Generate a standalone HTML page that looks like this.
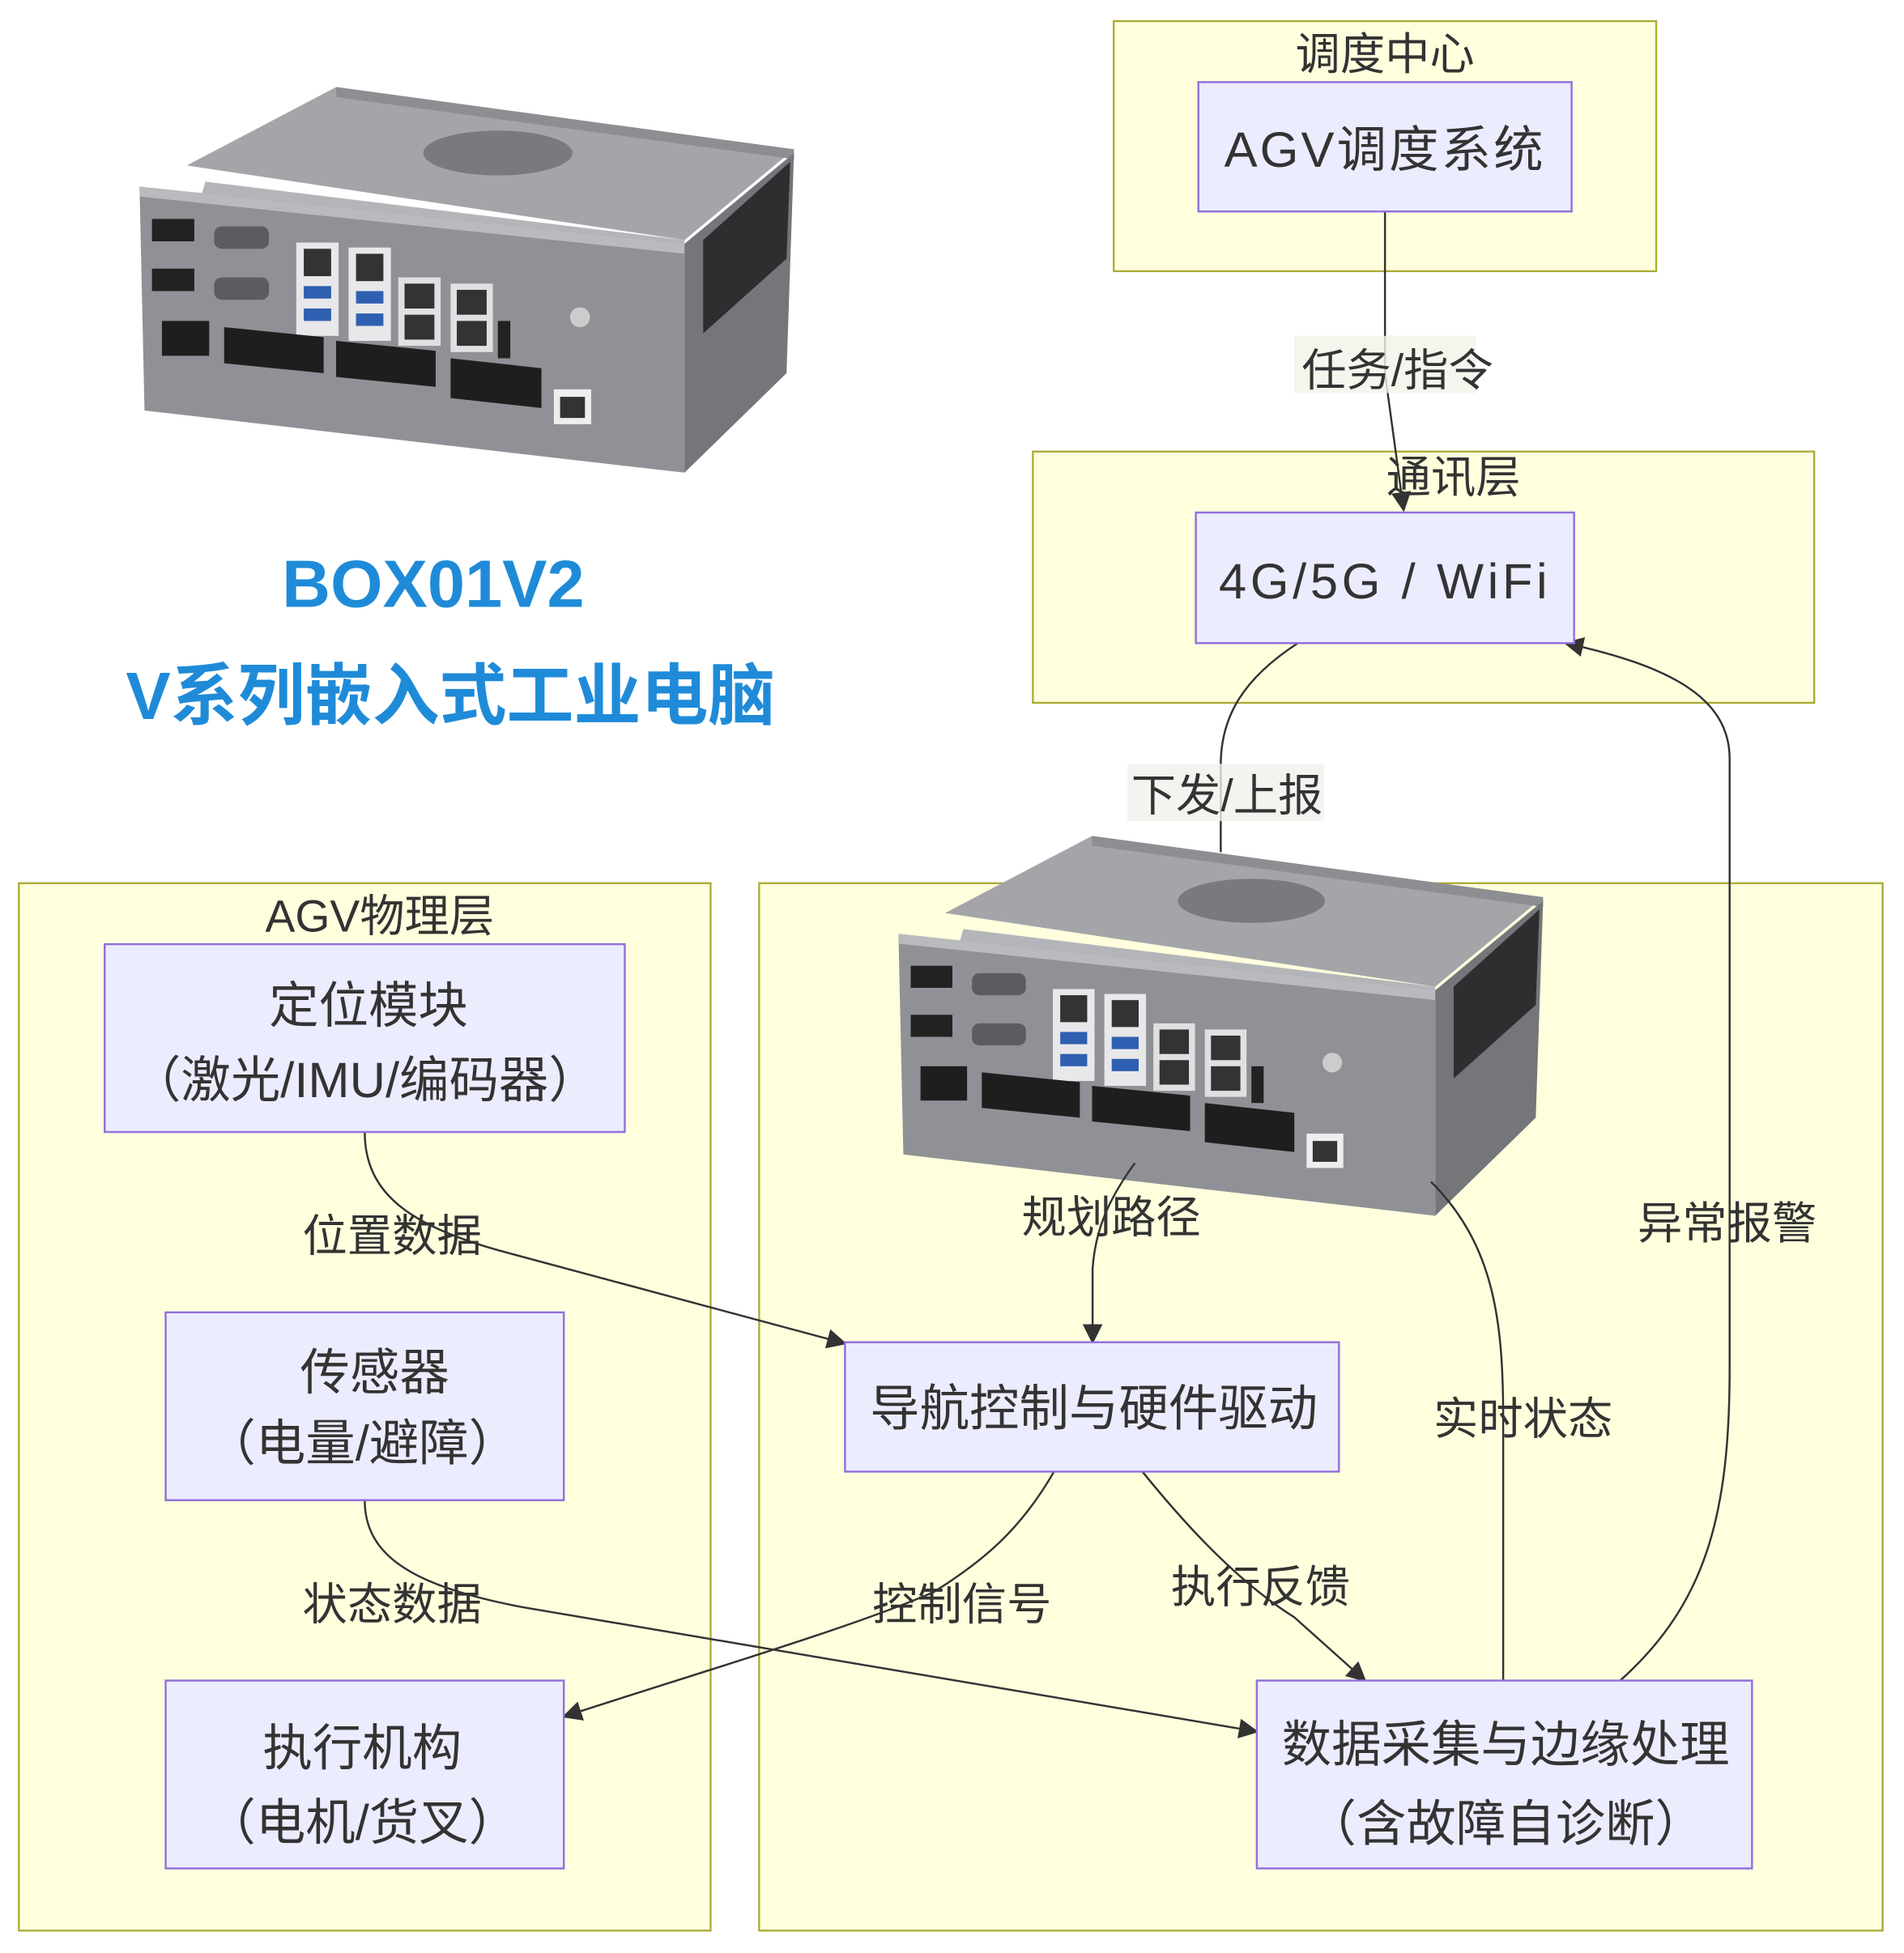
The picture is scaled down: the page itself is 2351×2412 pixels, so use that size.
<!DOCTYPE html>
<html><head><meta charset="utf-8">
<style>
html,body{margin:0;padding:0;background:#fff;}
svg{display:block;}
text{font-family:"Liberation Sans","Noto Sans CJK SC",sans-serif;fill:#333;}
</style></head>
<body>
<svg width="2351" height="2412" viewBox="0 0 1530 1570" xmlns="http://www.w3.org/2000/svg">
<defs>
<marker id="ar" viewBox="0 0 10 10" refX="9" refY="5" markerWidth="8" markerHeight="8" orient="auto-start-reverse" markerUnits="userSpaceOnUse">
<path d="M0,0 L10,5 L0,10 z" fill="#333"/></marker>
<marker id="arb" viewBox="0 0 10 10" refX="9" refY="5" markerWidth="16" markerHeight="16" orient="auto" markerUnits="userSpaceOnUse">
<path d="M0,0 L10,5 L0,10 z" fill="#333"/></marker>
<g id="dev">
 <!-- top face -->
 <polygon points="40,65 160,2 528,52 440,125" fill="#a3a5a9"/>
 <polygon points="160,2 528,52 528,60 160,10" fill="#8c8e92"/>
 <polygon points="55,78 440,125 440,135 52,88" fill="#b3b5b9"/>
 <!-- vent -->
 <ellipse cx="290" cy="55" rx="60" ry="18" fill="#55575b" opacity="0.55"/>
 <!-- front -->
 <polygon points="2,82 440,128 440,312 6,262" fill="#8f9196"/>
 <polygon points="2,82 440,128 440,136 2,90" fill="#b8babd"/>
 <!-- side -->
 <polygon points="440,128 528,55 522,232 440,312" fill="#74767a"/>
 <polygon points="455,125 525,62 522,140 455,200" fill="#2d2e30"/>
 <!-- ports -->
 <rect x="12" y="108" width="34" height="18" fill="#222"/>
 <rect x="12" y="148" width="34" height="18" fill="#222"/>
 <rect x="62" y="114" width="44" height="18" rx="6" fill="#5a5c60"/>
 <rect x="62" y="155" width="44" height="18" rx="6" fill="#5a5c60"/>
 <rect x="128" y="127" width="34" height="75" fill="#e8e8ea"/>
 <rect x="134" y="132" width="22" height="22" fill="#333"/>
 <rect x="134" y="162" width="22" height="10" fill="#2f5fb0"/>
 <rect x="134" y="180" width="22" height="10" fill="#2f5fb0"/>
 <rect x="170" y="131" width="34" height="75" fill="#e8e8ea"/>
 <rect x="176" y="136" width="22" height="22" fill="#333"/>
 <rect x="176" y="166" width="22" height="10" fill="#2f5fb0"/>
 <rect x="176" y="184" width="22" height="10" fill="#2f5fb0"/>
 <rect x="210" y="155" width="34" height="55" fill="#e0e0e2"/>
 <rect x="215" y="160" width="24" height="20" fill="#333"/>
 <rect x="215" y="185" width="24" height="20" fill="#333"/>
 <rect x="252" y="160" width="34" height="55" fill="#e0e0e2"/>
 <rect x="257" y="165" width="24" height="20" fill="#333"/>
 <rect x="257" y="190" width="24" height="20" fill="#333"/>
 <rect x="290" y="190" width="10" height="30" fill="#222"/>
 <circle cx="356" cy="187" r="8" fill="#ccc"/>
 <rect x="20" y="190" width="38" height="28" fill="#1e1e1e"/>
 <polygon points="70,195 150,203 150,232 70,224" fill="#1e1e1e"/>
 <polygon points="160,206 240,214 240,243 160,235" fill="#1e1e1e"/>
 <polygon points="252,220 325,228 325,260 252,252" fill="#1e1e1e"/>
 <rect x="335" y="245" width="30" height="28" fill="#eee"/>
 <rect x="340" y="251" width="20" height="17" fill="#333"/>
</g>
</defs>
<rect width="1530" height="1570" fill="#fff"/>

<!-- top-left device and title -->
<use href="#dev" transform="translate(110,68)"/>
<text x="348" y="488" text-anchor="middle" font-size="54" font-weight="bold" style="fill:#1f8bd8">BOX01V2</text>
<text x="362" y="578" text-anchor="middle" font-size="54" font-weight="bold" style="fill:#1f8bd8">V系列嵌入式工业电脑</text>

<!-- clusters -->
<rect x="895" y="17" width="436" height="201" fill="#ffffde" stroke="#aaaa33" stroke-width="1.5"/>
<text x="1113" y="56" text-anchor="middle" font-size="36">调度中心</text>
<rect x="830" y="363" width="628" height="202" fill="#ffffde" stroke="#aaaa33" stroke-width="1.5"/>
<text x="1168" y="396" text-anchor="middle" font-size="36">通讯层</text>
<rect x="15" y="710" width="556" height="842" fill="#ffffde" stroke="#aaaa33" stroke-width="1.5"/>
<text x="305" y="749" text-anchor="middle" font-size="36">AGV物理层</text>
<rect x="610" y="710" width="903" height="842" fill="#ffffde" stroke="#aaaa33" stroke-width="1.5"/>

<!-- second device -->
<use href="#dev" transform="translate(720,670) scale(0.985)"/>

<!-- edges -->
<g fill="none" stroke="#333" stroke-width="1.6">
 <path d="M1113,170 L1113,300 L1128,410" marker-end="url(#arb)"/>
 <path d="M1043,517 C1000,545 981,575 981,615 L981,685"/>
 <path d="M293,910 C293,960 330,985 400,1005 L679,1080" marker-end="url(#arb)"/>
 <path d="M293,1206 C293,1250 330,1275 420,1292 L1010,1392" marker-end="url(#arb)"/>
 <path d="M847,1183 C820,1230 790,1255 750,1280 C680,1310 560,1345 453,1380" marker-end="url(#arb)"/>
 <path d="M918,1183 C960,1235 1000,1275 1040,1300 L1097,1351" marker-end="url(#arb)"/>
 <path d="M912,935 C890,965 880,990 878,1020 L878,1079" marker-end="url(#arb)"/>
 <path d="M1150,950 C1200,1000 1208,1060 1208,1140 L1208,1351"/>
 <path d="M1302,1351 C1370,1290 1390,1220 1390,1100 L1390,610 C1390,560 1340,535 1258,517" marker-end="url(#arb)"/>
</g>

<!-- edge labels -->
<g font-size="36">
<rect x="1040" y="270" width="146" height="46" fill="#f2f2e8" opacity="0.8"/>
<text x="1123" y="310" text-anchor="middle">任务/指令</text>
<rect x="906" y="614" width="158" height="46" fill="#f0f0ec" opacity="0.8"/>
<text x="986" y="652" text-anchor="middle">下发/上报</text>
<text x="315" y="1006" text-anchor="middle">位置数据</text>
<text x="315" y="1302" text-anchor="middle">状态数据</text>
<text x="773" y="1302" text-anchor="middle">控制信号</text>
<text x="1013" y="1288" text-anchor="middle">执行反馈</text>
<text x="893" y="991" text-anchor="middle">规划路径</text>
<text x="1224" y="1153" text-anchor="middle">实时状态</text>
<text x="1388" y="996" text-anchor="middle">异常报警</text>
</g>

<!-- nodes -->
<g fill="#ececff" stroke="#9370db" stroke-width="1.6">
<rect x="963" y="66" width="300" height="104"/>
<rect x="961" y="412" width="304" height="105"/>
<rect x="84" y="759" width="418" height="151"/>
<rect x="133" y="1055" width="320" height="151"/>
<rect x="133" y="1351" width="320" height="151"/>
<rect x="679" y="1079" width="397" height="104"/>
<rect x="1010" y="1351" width="398" height="151"/>
</g>
<g font-size="40" text-anchor="middle">
<text x="1113" y="134" letter-spacing="2">AGV调度系统</text>
<text x="1113" y="481" font-family="Liberation Mono" letter-spacing="3">4G/5G / WiFi</text>
<text x="296" y="822">定位模块</text>
<text x="293" y="882">（激光/IMU/编码器）</text>
<text x="301" y="1117">传感器</text>
<text x="291" y="1174">（电量/避障）</text>
<text x="291" y="1419">执行机构</text>
<text x="291" y="1479">（电机/货叉）</text>
<text x="879" y="1146">导航控制与硬件驱动</text>
<text x="1210" y="1416">数据采集与边缘处理</text>
<text x="1210" y="1480">（含故障自诊断）</text>
</g>
</svg>
</body></html>
